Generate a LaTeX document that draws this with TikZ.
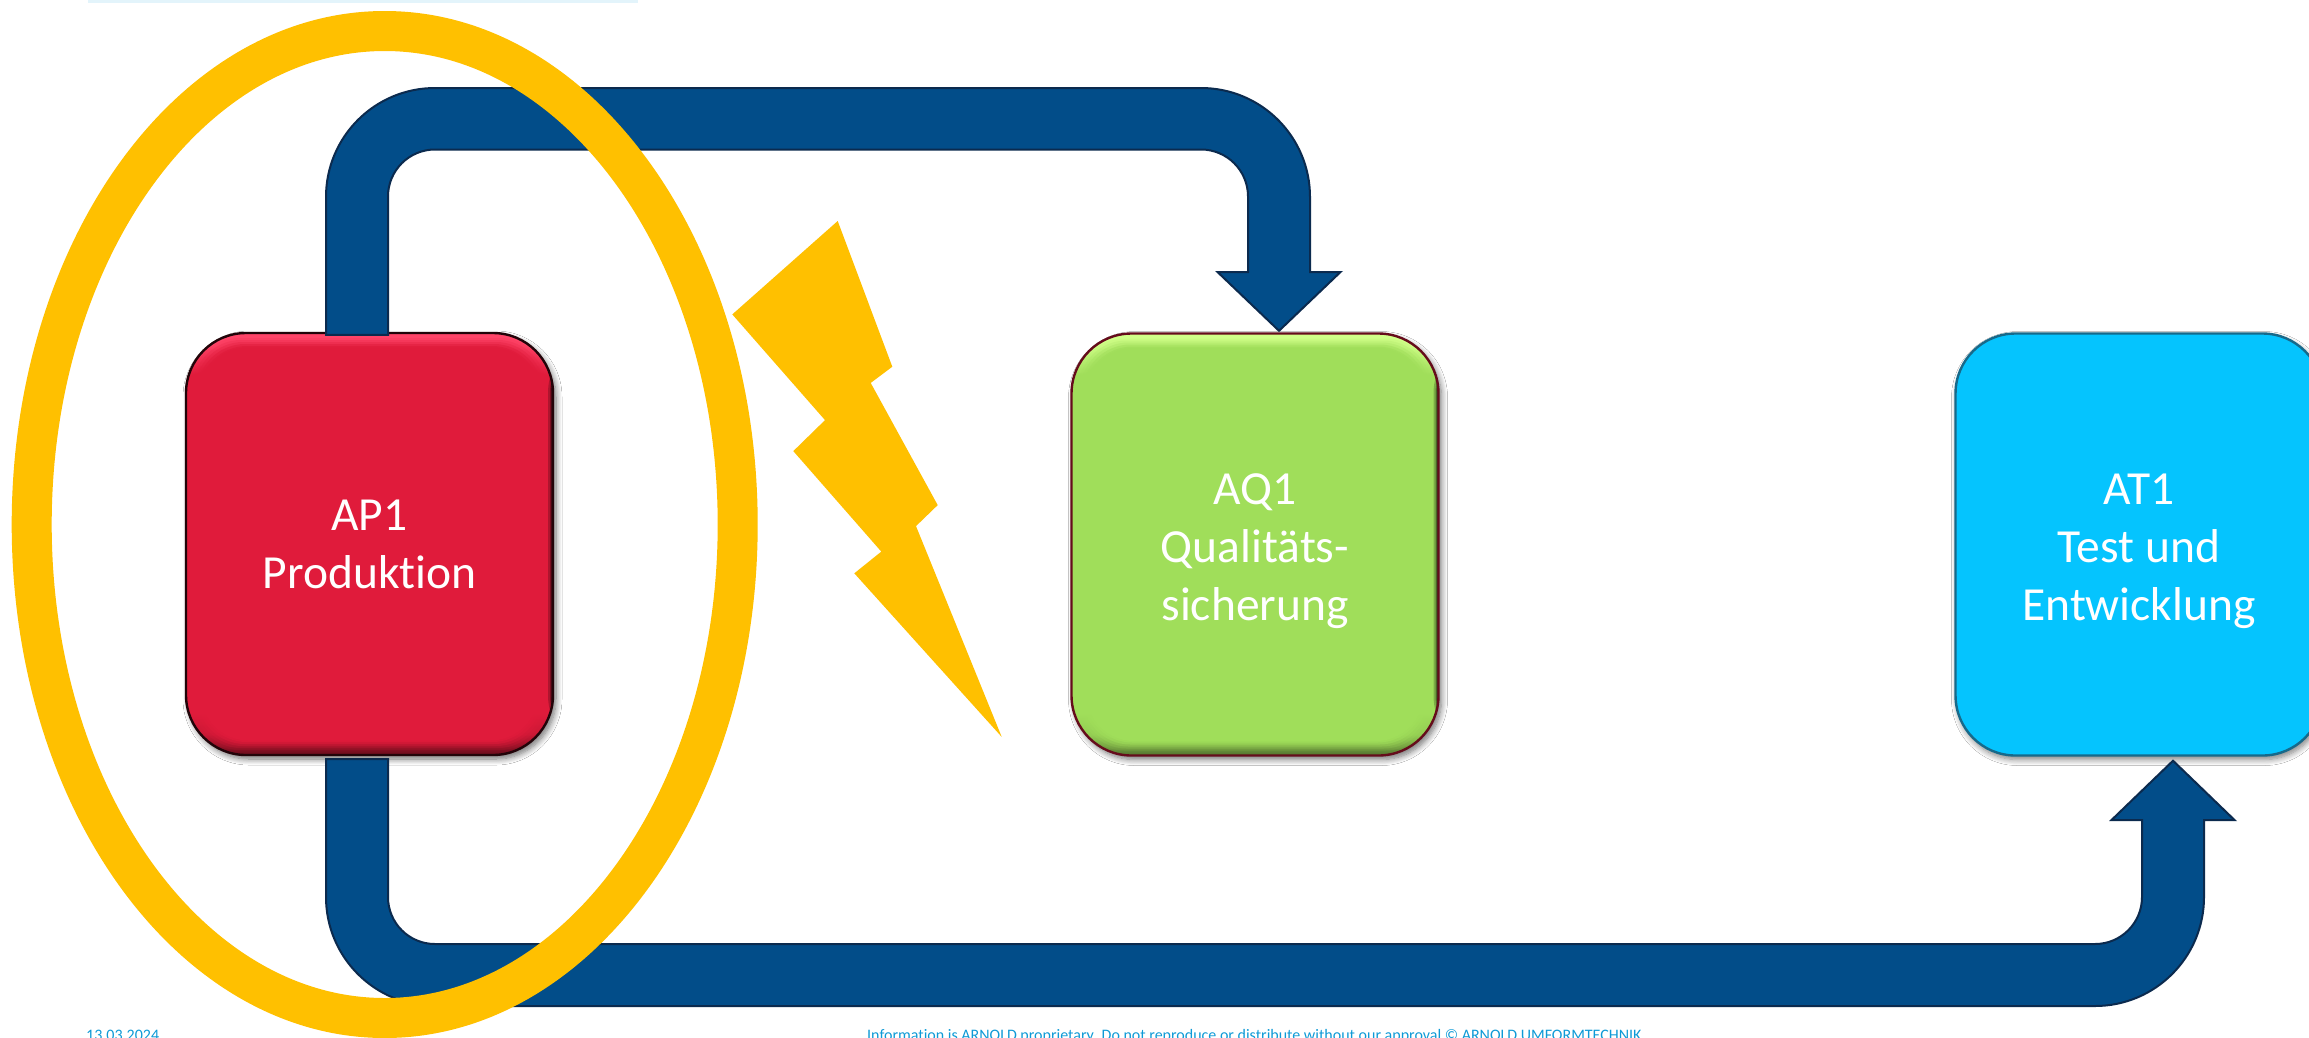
\documentclass[tikz,border=0pt]{standalone}
\usepackage{fontspec}
\setmainfont[Ligatures=NoCommon]{Carlito}
\usetikzlibrary{calc,shadows.blur}
\definecolor{cred}{HTML}{E01B3B}
\definecolor{credhi}{HTML}{FF4468}
\definecolor{cgreen}{HTML}{A0DE5A}
\definecolor{cgreenhi}{HTML}{D0FF88}
\definecolor{ccyan}{HTML}{05C4FE}
\definecolor{ccyanline}{HTML}{17698A}
\definecolor{cblue}{HTML}{024D89}
\definecolor{cblueline}{HTML}{0B2A4E}
\definecolor{cyellow}{HTML}{FFC000}
\definecolor{cfoot}{HTML}{0E9AD6}
\definecolor{cstrip}{HTML}{E3F4FB}
\pgfdeclareverticalshading{bevred}{100bp}{color(0bp)=(cred!45!black);color(25bp)=(cred!45!black);color(26bp)=(cred!65!black);color(27.5bp)=(cred!90!black);color(30bp)=(cred);color(70bp)=(cred);color(73.5bp)=(credhi);color(75bp)=(credhi);color(100bp)=(credhi)}
\pgfdeclareverticalshading{bevgreen}{100bp}{color(0bp)=(cgreen!50!black);color(25bp)=(cgreen!50!black);color(26bp)=(cgreen!70!black);color(27.5bp)=(cgreen!92!black);color(30bp)=(cgreen);color(70bp)=(cgreen);color(73.5bp)=(cgreenhi);color(75bp)=(cgreenhi);color(100bp)=(cgreenhi)}
\tikzset{
  bevelbox/.style n args={3}{rectangle,rounded corners=60pt,minimum width=367pt,minimum height=422pt,
    inner sep=0pt,align=center,text=white,text depth=0pt,font=\fontsize{47.5}{58}\selectfont,
    draw=#3,line width=2.4pt,shade,shading=#1,
    blur shadow={shadow xshift=3pt,shadow yshift=-4pt,shadow blur radius=6pt,shadow blur steps=8,shadow opacity=55},
    path picture={
      \foreach \w/\o in {5/.22,3/.3,2/.4}{
        \fill[black,opacity=\o] ([xshift=-\w pt]path picture bounding box.south east) rectangle (path picture bounding box.north east);
      }
      \foreach \i/\o in {5/.12,7/.2,9/.3,11/.5,13/.75,14.5/1}{
        \fill[#2,opacity=\o,rounded corners=48pt]
          ([shift={(\i pt,\i pt)}]path picture bounding box.south west) rectangle
          ([shift={(-\i pt,-\i pt)}]path picture bounding box.north east);
      }
    }},
  flatbox/.style={rectangle,rounded corners=60pt,minimum width=367pt,minimum height=422pt,
    inner sep=0pt,align=center,text=white,text depth=0pt,font=\fontsize{47.5}{58}\selectfont,
    draw=#1,line width=2.4pt,fill=ccyan,
    blur shadow={shadow xshift=2pt,shadow yshift=-4pt,shadow blur radius=6pt,shadow blur steps=8,shadow opacity=50}},
  blockarrow/.style={fill=cblue,draw=cblueline,line width=2pt,line join=miter},
  footertext/.style={anchor=base west,inner sep=0pt,text=cfoot,font=\fontsize{16}{19}\selectfont},
}
\newcommand{\firstline}{\rule{0pt}{35pt}}
\begin{document}
\begin{tikzpicture}[x=1pt,y=-1pt]
\useasboundingbox (0,0) rectangle (2309,1037);
\fill[white] (0,0) rectangle (2309,1037);
\fill[cstrip] (88,0) rectangle (638,3);

% boxes
\node[bevelbox={bevred}{cred}{black!85!cred}] (AP1) at (369.5,544) {AP1\\Produktion};
\node[bevelbox={bevgreen}{cgreen}{black!55!cred}] (AQ1) at (1255,544.5) {\firstline AQ1\\Qualitäts-\\sicherung};
\node[flatbox=ccyanline] (AT1) at (2139,544.5) {\firstline AT1\\Test und\\Entwicklung};

% connector anchors
\coordinate (s1L) at ($(AP1.north)+(-43.5,3)$);
\coordinate (s1R) at ($(AP1.north)+(18.5,3)$);
\coordinate (s2L) at ($(AP1.south)+(-43.5,3)$);
\coordinate (s2R) at ($(AP1.south)+(18.5,3)$);
\coordinate (t1) at ($(AQ1.north)+(24,-1.5)$);
\coordinate (t2) at ($(AT1.south)+(34,4)$);
\coordinate (r1O) at (0,88);
\coordinate (r1I) at (0,149.5);
\coordinate (r2I) at (0,944);
\coordinate (r2O) at (0,1006);
\coordinate (h1) at (0,272);
\coordinate (h2) at (0,820);
\coordinate (t1L) at ($(t1)+(-31,0)$);
\coordinate (t1R) at ($(t1)+(31,0)$);
\coordinate (t1LL) at ($(t1)+(-61.5,0)$);
\coordinate (t1RR) at ($(t1)+(61.5,0)$);
\coordinate (t2L) at ($(t2)+(-31,0)$);
\coordinate (t2R) at ($(t2)+(31,0)$);
\coordinate (t2LL) at ($(t2)+(-61.5,0)$);
\coordinate (t2RR) at ($(t2)+(61.5,0)$);

% connector AP1 -> AQ1
\draw[blockarrow] (s1L)
  [rounded corners=109pt] -- (s1L |- r1O) -- (t1R |- r1O)
  [sharp corners] -- (t1R |- h1) -- (t1RR |- h1) -- (t1) -- (t1LL |- h1) -- (t1L |- h1)
  [rounded corners=47pt] -- (t1L |- r1I) -- (s1R |- r1I)
  [sharp corners] -- (s1R) -- cycle;

% connector AP1 -> AT1
\draw[blockarrow] (s2L)
  [rounded corners=109pt] -- (s2L |- r2O) -- (t2R |- r2O)
  [sharp corners] -- (t2R |- h2) -- (t2RR |- h2) -- (t2) -- (t2LL |- h2) -- (t2L |- h2)
  [rounded corners=47pt] -- (t2L |- r2I) -- (s2R |- r2I)
  [sharp corners] -- (s2R) -- cycle;

% lightning
\fill[cyellow] (837.7,221) -- (892.3,366.7) -- (870.7,382.9) -- (937.7,505.1) -- (916,526.1)
  -- (1001.7,736.9) -- (854.3,573.3) -- (881.3,551.6) -- (793.3,451.1) -- (825,420.1) -- (732.3,314.4) -- cycle;

% ring
\draw[cyellow,line width=40pt] (384.7,524.5) ellipse [x radius=353,y radius=493.5];

% footer
\node[footertext] (date) at (86,1040) {13.03.2024};
\node[footertext] (legal) at (867,1040) {Information is ARNOLD proprietary. Do not reproduce or distribute without our approval © ARNOLD UMFORMTECHNIK};
\end{tikzpicture}
\end{document}
